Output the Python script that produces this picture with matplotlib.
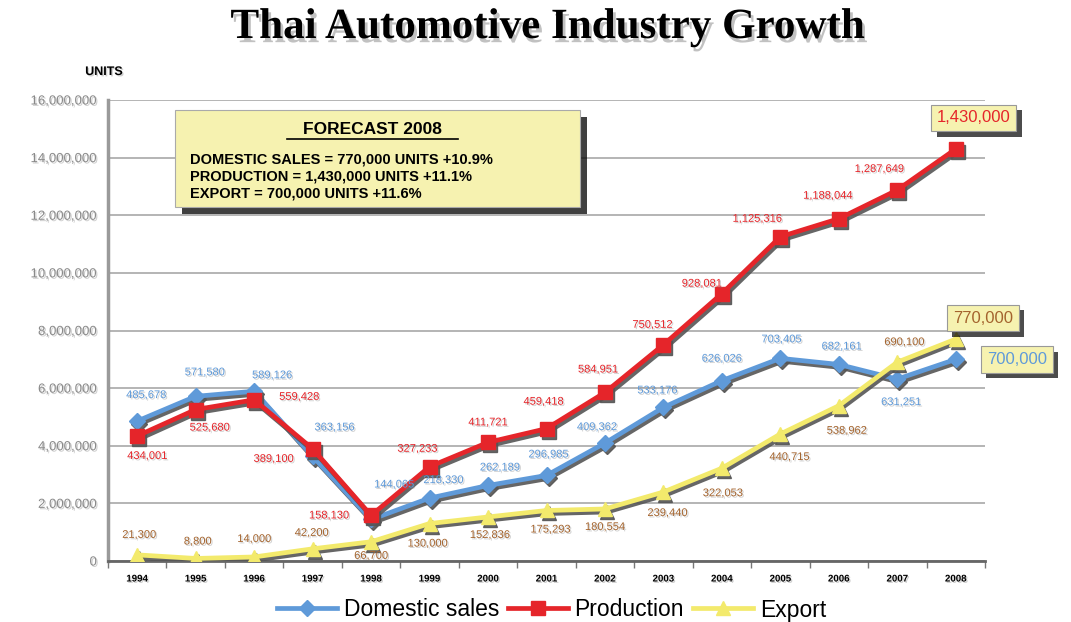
import matplotlib
matplotlib.use("Agg")
import matplotlib.pyplot as plt
import matplotlib.patheffects as pe
from matplotlib.ticker import FixedLocator, FuncFormatter
from matplotlib.patches import FancyBboxPatch
from matplotlib.lines import Line2D
from matplotlib.transforms import offset_copy

years = [str(y) for y in range(1994, 2009)]
domestic = [485678, 571580, 589126, 363156, 144065, 218330, 262189, 296985,
            409362, 533176, 626026, 703405, 682161, 631251, 700000]
production = [434001, 525680, 559428, 389100, 158130, 327233, 411721, 459418,
              584951, 750512, 928081, 1125316, 1188044, 1287649, 1430000]
export = [21300, 8800, 14000, 42200, 66700, 130000, 152836, 175293,
          180554, 239440, 322053, 440715, 538962, 690100, 770000]

forecast_lines = ["DOMESTIC SALES = 770,000 UNITS +10.9%",
                  "PRODUCTION = 1,430,000 UNITS +11.1%",
                  "EXPORT = 700,000 UNITS +11.6%"]

# label offsets in pixels (right, up) for 1994-2007
dom_off = [(9, 26), (9, 24), (18, 16), (22, 29), (23, 35), (14, 18), (12, 18),
           (2, 21), (-8, 16), (-6, 17), (0, 22), (1, 19), (3, 18), (4, -23)]
prod_off = [(10, -20), (14, -18), (45, 3), (-39, -10), (-42, 0), (-12, 18), (0, 20),
            (-3, 27), (-7, 23), (-11, 20), (-20, 10), (-23, 18), (-11, 23), (-18, 21)]
exp_off = [(2, 20), (2, 17), (0, 18), (-1, 16), (0, -14), (-2, -20), (2, -18),
           (4, -19), (0, -18), (4, -21), (1, -25), (9, -23), (8, -25), (7, 20)]

blue = '#5f9ad9'
red = '#e5252a'
yellow = '#f3ea6c'
brown = '#a4642e'
note_bg = '#f6f2b0'
shade = '#555555'

plt.rcParams['font.family'] = ['Liberation Sans', 'DejaVu Sans']

fig = plt.figure(figsize=(10.71, 6.22), dpi=100)
ax = fig.add_axes([108 / 1071, 1 - 561 / 622, 877 / 1071, 461 / 622])

text_fx = [pe.withSimplePatchShadow(offset=(1, -1), shadow_rgbFace='#777', alpha=0.35)]
shadow_tr = offset_copy(ax.transData, fig=fig, x=2, y=-3, units='dots')

x = list(range(len(years)))
series = [(domestic, 'Domestic sales', blue, 'D', 8, 3),
          (production, 'Production', red, 's', 10, 4),
          (export, 'Export', yellow, '^', 10, 5)]
for vals, name, col, mk, ms, z in series:
    # grey drop shadow under each series
    ax.plot(x, vals, color=shade, lw=3.4, marker=mk, ms=ms, mfc=shade, mec=shade,
            alpha=0.9, transform=shadow_tr, zorder=z - 0.5)
    ax.plot(x, vals, color=col, lw=3.4, marker=mk, ms=ms, mfc=col, mec=col,
            label=name, zorder=z)

# value labels for 1994-2007
for vals, offs, col in [(domestic, dom_off, blue), (production, prod_off, red),
                        (export, exp_off, brown)]:
    for i, (dx, dy) in enumerate(offs):
        ax.annotate(f"{vals[i]:,}", (i, vals[i]), xytext=(dx, dy),
                    textcoords='offset pixels', ha='center', va='center',
                    fontsize=8, color=col, path_effects=text_fx, zorder=6)

# 2008 callout boxes
box_fx = [pe.withSimplePatchShadow(offset=(4, -4), shadow_rgbFace='black', alpha=0.7)]
for vals, off, col in [(production, (18, 31), red), (export, (27, 21), brown),
                       (domestic, (61, 0), blue)]:
    t = ax.annotate(f"{vals[-1]:,}", (14, vals[-1]), xytext=off,
                    textcoords='offset pixels', ha='center', va='center',
                    fontsize=12, color=col, zorder=7, annotation_clip=False,
                    bbox=dict(boxstyle='square,pad=0.35', fc=note_bg, ec='#999', lw=0.8))
    t.get_bbox_patch().set_path_effects(box_fx)

ax.set_xlim(-0.46, 14.48)
ax.set_ylim(0, 1600000)
ax.yaxis.set_major_locator(FixedLocator(range(0, 1600001, 200000)))
# axis labels printed ten times the plotted scale
ax.yaxis.set_major_formatter(FuncFormatter(lambda v, p: f"{int(v * 10):,}"))
ax.set_xticks(x)
ax.set_xticklabels(years)
ax.set_xticks([i + 0.5 for i in range(-1, 15)], minor=True)
ax.tick_params(axis='x', which='major', length=0, pad=9, labelsize=7)
ax.tick_params(axis='x', which='minor', length=5, width=1, color='#777', direction='out')
ax.tick_params(axis='y', length=0, pad=8, labelsize=9.5, labelcolor='#8a8a8a')
for lab in ax.get_xticklabels():
    lab.set_fontweight('bold')
    lab.set_path_effects(text_fx)
for lab in ax.get_yticklabels():
    lab.set_path_effects(text_fx)

ax.grid(axis='y', color='#a8a8a8', lw=1.2)
ax.set_axisbelow(True)
for s in ['top', 'right']:
    ax.spines[s].set_visible(False)
ax.spines['left'].set_color('#9a9a9a')
ax.spines['left'].set_linewidth(2.5)
ax.spines['bottom'].set_color('#666')
ax.spines['bottom'].set_linewidth(2)

fig.text(547 / 1071, 1 - 28 / 622, "Thai Automotive Industry Growth", ha='center', va='center',
         fontsize=31, fontweight='bold', family='Liberation Serif',
         path_effects=[pe.withSimplePatchShadow(offset=(2, -3), shadow_rgbFace='#666', alpha=0.4)])
fig.text(104 / 1071, 1 - 72 / 622, "UNITS", ha='center', va='center', fontsize=9,
         fontweight='bold', path_effects=text_fx)

# forecast note
note = FancyBboxPatch((175 / 1071, 1 - 207 / 622), 405 / 1071, 97 / 622,
                      boxstyle='square,pad=0', transform=fig.transFigure,
                      fc=note_bg, ec='#aaa', lw=0.8, zorder=8,
                      path_effects=[pe.withSimplePatchShadow(offset=(5, -5),
                                                             shadow_rgbFace='black', alpha=0.75)])
fig.patches.append(note)
fig.text(372 / 1071, 1 - 129 / 622, "FORECAST 2008", ha='center', va='center',
         fontsize=12.5, fontweight='bold', zorder=9)
fig.add_artist(Line2D([287 / 1071, 458 / 1071], [1 - 139 / 622, 1 - 139 / 622],
                      color='black', lw=1.2, zorder=9))
for k, s in enumerate(forecast_lines):
    fig.text(190 / 1071, 1 - (160 + 16.5 * k) / 622, s, ha='left', va='center',
             fontsize=10.5, fontweight='bold', zorder=9)

fig.legend(loc='center', bbox_to_anchor=(0.515, 1 - 610 / 622), ncol=3, frameon=False,
           fontsize=16.5, handlelength=2.6, handletextpad=0.3, columnspacing=0.4)

fig.savefig('out.png', dpi=100)
